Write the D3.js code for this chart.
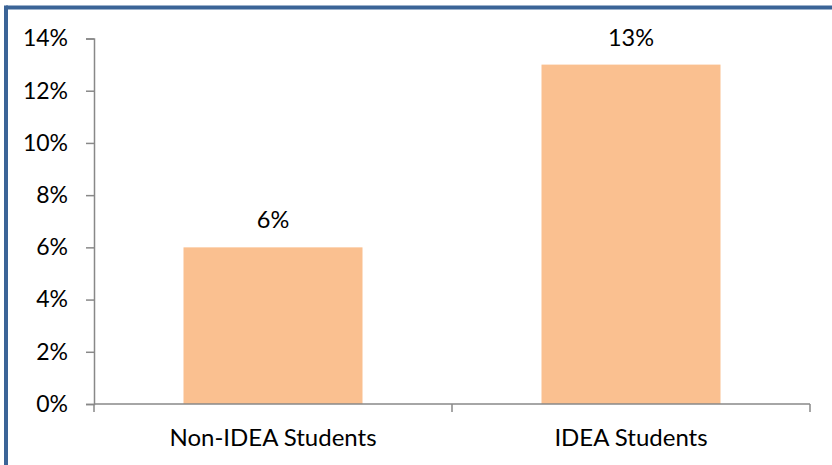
<!DOCTYPE html>
<html>
<head>
<meta charset="utf-8">
<script src="https://cdn.jsdelivr.net/npm/d3@7"></script>
<style>
  html, body { margin: 0; padding: 0; background: #fff; }
  svg { display: block; }
  text { font-family: Lato, "Open Sans", sans-serif; fill: #000; }
</style>
</head>
<body>
<svg id="chart" width="832" height="465"></svg>
<script>
// Share of students, by group
const categories = ["Non-IDEA Students", "IDEA Students"];
const values = [6, 13];
const yTicks = [0, 2, 4, 6, 8, 10, 12, 14];

const svg = d3.select("#chart");
const W = 832, H = 465;
const plot = { left: 94, right: 810, top: 38.5, bottom: 404 };

// Frame (top and left edges fall inside the canvas)
svg.append("rect").attr("x", 0).attr("y", 0).attr("width", W).attr("height", H).attr("fill", "#fff");
svg.append("line").attr("x1", 6).attr("x2", W).attr("y1", 7.5).attr("y2", 7.5)
  .attr("stroke", "#3B6497").attr("stroke-width", 4);
svg.append("line").attr("x1", 6).attr("x2", 6).attr("y1", 5.5).attr("y2", H)
  .attr("stroke", "#3B6497").attr("stroke-width", 4);

const x = d3.scaleBand().domain(categories).range([plot.left, plot.right]).paddingInner(0.5).paddingOuter(0.25);
const y = d3.scaleLinear().domain([0, 14]).range([plot.bottom, plot.top]);

// Bars
svg.append("g").selectAll("rect").data(values).join("rect")
  .attr("x", (d, i) => x(categories[i]))
  .attr("width", x.bandwidth())
  .attr("y", d => y(d))
  .attr("height", d => y(0) - y(d))
  .attr("fill", "#FAC090");

// Value labels
svg.append("g").selectAll("text").data(values).join("text")
  .attr("x", (d, i) => x(categories[i]) + x.bandwidth() / 2)
  .attr("y", d => y(d) - 19)
  .attr("text-anchor", "middle")
  .attr("font-size", 23.5)
  .text(d => d + "%");

// Y axis
const yAxis = svg.append("g").attr("transform", `translate(${plot.left},0)`)
  .call(d3.axisLeft(y).tickValues(yTicks).tickSize(8).tickPadding(18).tickFormat(d => d + "%"));
yAxis.select(".domain").attr("stroke", "#888").attr("stroke-width", 1.5);
yAxis.selectAll(".tick line").attr("stroke", "#888").attr("stroke-width", 1.5);
yAxis.selectAll(".tick text").attr("font-size", 23).attr("font-family", "Lato, 'Open Sans', sans-serif").attr("fill", "#000");

// X axis: category-boundary ticks
const xAxisG = svg.append("g");
xAxisG.append("line").attr("x1", plot.left).attr("x2", plot.right)
  .attr("y1", plot.bottom).attr("y2", plot.bottom).attr("stroke", "#888").attr("stroke-width", 1.5);
const bounds = [plot.left, plot.left + (plot.right - plot.left) / 2, plot.right];
xAxisG.selectAll("line.tk").data(bounds).join("line").attr("class", "tk")
  .attr("x1", d => d).attr("x2", d => d)
  .attr("y1", plot.bottom).attr("y2", plot.bottom + 8)
  .attr("stroke", "#888").attr("stroke-width", 1.5);
xAxisG.selectAll("text").data(categories).join("text")
  .attr("x", d => x(d) + x.bandwidth() / 2)
  .attr("y", 446)
  .attr("text-anchor", "middle")
  .attr("font-size", 24)
  .text(d => d);
</script>
</body>
</html>
